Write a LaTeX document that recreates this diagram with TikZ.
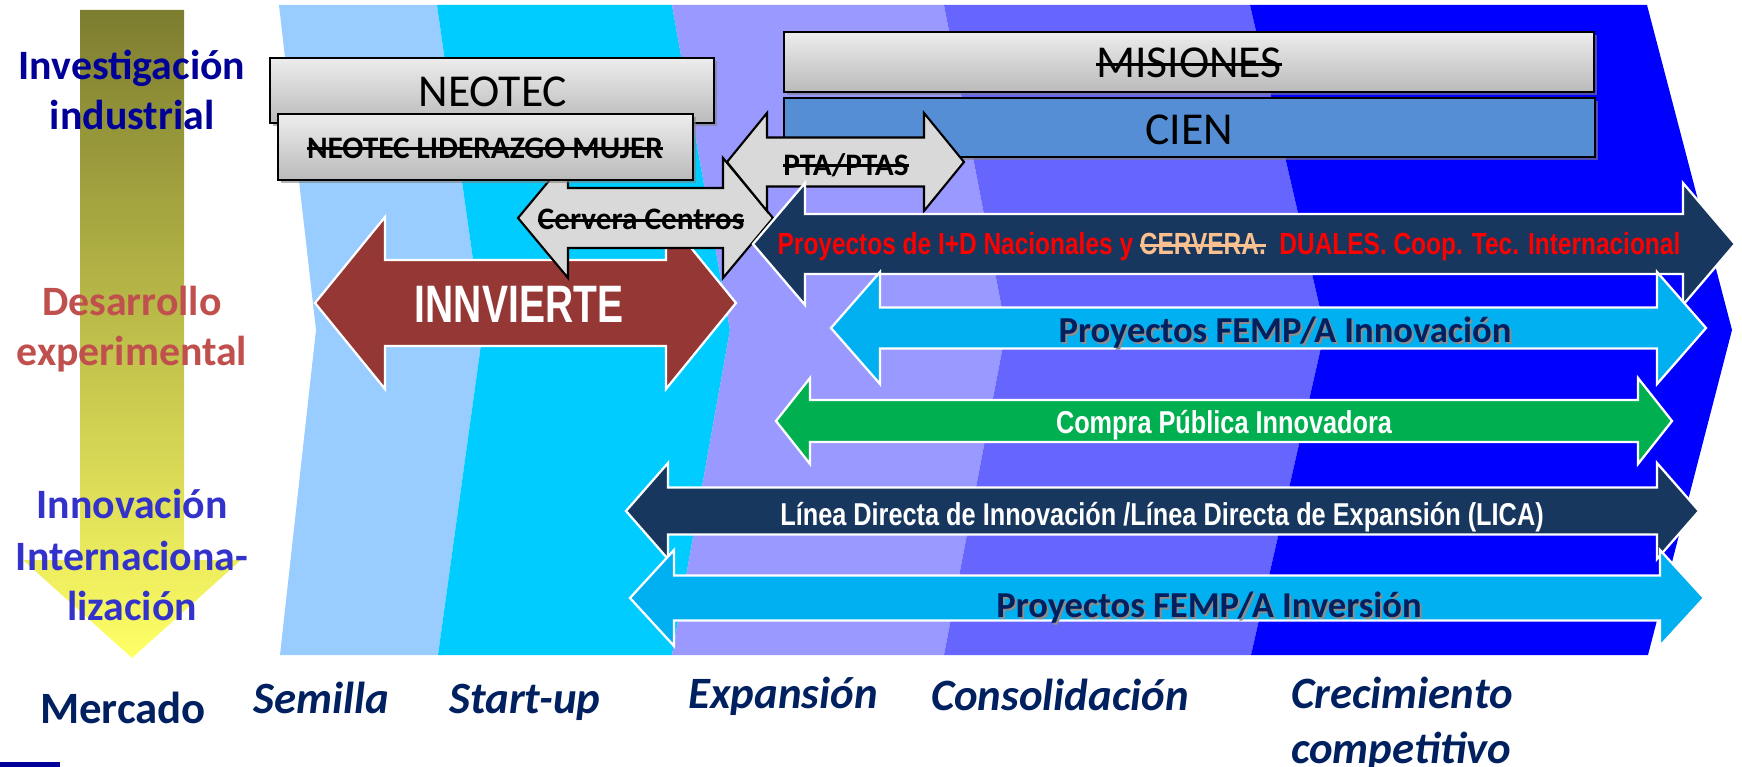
\documentclass[tikz,border=0pt]{standalone}
\usepackage{fontspec}
\setmainfont{Carlito}
\newfontfamily\narrowfont[FakeStretch=0.8]{Liberation Sans}
\newfontfamily\innvfont[FakeStretch=0.74]{Liberation Sans}
\newlength{\tacharwd}
\newcommand{\tachar}[1]{\settowidth{\tacharwd}{#1}\rlap{\rule[0.27em]{\tacharwd}{1.3pt}}#1}
\usetikzlibrary{shadows}
\definecolor{bandA}{RGB}{153,204,255}
\definecolor{bandB}{RGB}{0,204,255}
\definecolor{bandC}{RGB}{153,153,255}
\definecolor{bandD}{RGB}{102,102,255}
\definecolor{bandE}{RGB}{0,0,255}
\definecolor{invblue}{RGB}{0,0,153}
\definecolor{desred}{RGB}{192,80,77}
\definecolor{innblue}{RGB}{51,51,204}
\definecolor{mktnavy}{RGB}{0,32,96}
\definecolor{cienblue}{RGB}{85,142,213}
\definecolor{innvred}{RGB}{149,55,53}
\definecolor{arrownavy}{RGB}{23,55,94}
\definecolor{fempcyan}{RGB}{0,176,240}
\definecolor{cpigreen}{RGB}{0,176,80}
\definecolor{cervtan}{RGB}{250,192,144}
\definecolor{olivetop}{RGB}{125,125,48}
\definecolor{olivemid}{RGB}{205,205,80}
\definecolor{yellowbot}{RGB}{255,255,102}
\newcommand{\dblarrow}[7]{%
  \draw[#1] (#2,#4) -- ({#2+#7},{#4-#6}) -- ({#2+#7},{#4-#5}) -- ({#3-#7},{#4-#5})
    -- ({#3-#7},{#4-#6}) -- (#3,#4) -- ({#3-#7},{#4+#6}) -- ({#3-#7},{#4+#5})
    -- ({#2+#7},{#4+#5}) -- ({#2+#7},{#4+#6}) -- cycle;}
\begin{document}
\begin{tikzpicture}[x=0.02cm, y=-0.02cm,
    graybox/.style={draw=black, line width=1.5pt, top color=black!7, bottom color=black!27,
      drop shadow={shadow xshift=1.5pt, shadow yshift=-1.5pt, opacity=0.6}},
    cienbox/.style={draw=black, line width=1.5pt, fill=cienblue,
      drop shadow={shadow xshift=1.5pt, shadow yshift=-1.5pt, opacity=0.6}},
    grayarrow/.style={draw=black, line width=1.2pt, fill=black!15},
    wborder/.style={draw=white, line width=1.3pt},
    sidelbl/.style={anchor=base, inner sep=0pt, font=\fontsize{23.8}{28}\selectfont\bfseries},
    stagelbl/.style={anchor=base, inner sep=0pt, text=mktnavy, font=\fontsize{25.5}{30}\selectfont\bfseries\itshape},
    boxlbl/.style={anchor=base, inner sep=0pt, font=\fontsize{26}{30}\selectfont},
    smalllbl/.style={anchor=base, inner sep=0pt, font=\fontsize{17.8}{20}\selectfont\bfseries},
    narrowlbl/.style={anchor=base, inner sep=0pt, text=white, font=\narrowfont\bfseries\fontsize{18}{20}\selectfont},
    femplbl/.style={anchor=base, inner sep=0pt, text=mktnavy, font=\fontsize{20.8}{24}\selectfont\bfseries},
    fempshadow/.style={femplbl, text=black!45}]
\useasboundingbox (0,0) rectangle (1742,767);
% etapas
\fill[bandA] (279,5) -- (316,330) -- (280,655) -- (438,655) -- (483,330) -- (437,5) -- cycle;
\fill[bandB] (437,5) -- (483,330) -- (438,655) -- (672,655) -- (730,330) -- (672,5) -- cycle;
\fill[bandC] (672,5) -- (730,330) -- (672,655) -- (944,655) -- (1006,330) -- (944,5) -- cycle;
\fill[bandD] (944,5) -- (1006,330) -- (944,655) -- (1251,655) -- (1325,330) -- (1250,5) -- cycle;
\fill[bandE] (1250,5) -- (1325,330) -- (1251,655) -- (1648,655) -- (1732,330) -- (1647,5) -- cycle;
% flecha vertical
\shade[top color=olivetop, middle color=olivemid, bottom color=yellowbot]
  (80,10) -- (184,10) -- (184,560) -- (241,560) -- (132,658) -- (23,560) -- (80,560) -- cycle;
\fill[invblue] (0,762) rectangle (60,767);
\node[sidelbl, text=invblue] (inv1) at (132,80) {Investigación};
\node[sidelbl, text=invblue] (inv2) at (132,130) {industrial};
\node[sidelbl, text=desred] (des1) at (132,315) {Desarrollo};
\node[sidelbl, text=desred] (des2) at (132,365) {experimental};
\node[sidelbl, text=innblue] (inn1) at (132,518) {Innovación};
\node[sidelbl, text=innblue] (inn2) at (132,570) {Internaciona-};
\node[sidelbl, text=innblue] (inn3) at (132,620) {lización};
% instrumentos
\dblarrow{wborder, fill=innvred}{315}{736}{303}{43}{86}{70}
\node[anchor=base, inner sep=0pt, text=white, font=\innvfont\bfseries\fontsize{30}{32}\selectfont] (innvierte) at (519,322) {INNVIERTE};
\dblarrow{grayarrow}{518}{773}{218}{30}{60}{50}
\node[smalllbl] (cervera) at (641,230) {\tachar{Cervera Centros}};
\draw[graybox] (270,58) rectangle (714,123);
\node[boxlbl] (neotec) at (493,107) {NEOTEC};
\draw[graybox] (278,114) rectangle (693,180);
\node[smalllbl] (neotecmujer) at (485,158) {\tachar{NEOTEC LIDERAZGO MUJER}};
\draw[graybox] (784,32) rectangle (1594,92);
\node[boxlbl] (misiones) at (1189,78) {\tachar{MISIONES}};
\draw[cienbox] (784,98) rectangle (1595,157);
\node[boxlbl] (cien) at (1189,145) {CIEN};
\dblarrow{grayarrow}{727}{964}{162}{24.5}{49}{40}
\node[smalllbl] (pta) at (846,175) {\tachar{PTA/PTAS}};
\dblarrow{wborder, fill=arrownavy}{753}{1735}{244}{30}{61}{52}
\node[narrowlbl, text=red, font=\narrowfont\bfseries\fontsize{17.4}{20}\selectfont] (idnac) at (1229,255)
  {Proyectos de I+D Nacionales y {\color{cervtan}\tachar{CERVERA.}}\ \ DUALES. Coop. Tec. Internacional};
\dblarrow{wborder, fill=fempcyan}{831}{1706}{328}{20.5}{56}{49}
\node[fempshadow] (fempAsh) at (1287,344) {Proyectos FEMP/A Innovación};
\node[femplbl] (fempA) at (1285,342) {Proyectos FEMP/A Innovación};
\dblarrow{wborder, fill=cpigreen}{776}{1672}{421}{21}{43}{34}
\node[narrowlbl] (compra) at (1224,433) {Compra Pública Innovadora};
\dblarrow{wborder, fill=arrownavy}{626}{1699}{511}{23.5}{48}{42}
\node[narrowlbl] (lica) at (1162,525) {Línea Directa de Innovación /Línea Directa de Expansión (LICA)};
\dblarrow{wborder, fill=fempcyan}{630}{1704}{598}{22.5}{48}{44}
\node[fempshadow] (fempBsh) at (1211,619) {Proyectos FEMP/A Inversión};
\node[femplbl] (fempB) at (1209,617) {Proyectos FEMP/A Inversión};
% etapas, textos
\node[anchor=base, inner sep=0pt, text=mktnavy, font=\fontsize{25.5}{30}\selectfont\bfseries] (mercado) at (123,723) {Mercado};
\node[stagelbl] (semilla) at (321,713) {Semilla};
\node[stagelbl] (startup) at (525,713) {Start-up};
\node[stagelbl] (expansion) at (783,708) {Expansión};
\node[stagelbl] (consolid) at (1060,710) {Consolidación};
\node[stagelbl] (crecim1) at (1402,708) {Crecimiento};
\node[stagelbl] (crecim2) at (1401,763) {competitivo};
\end{tikzpicture}
\end{document}
